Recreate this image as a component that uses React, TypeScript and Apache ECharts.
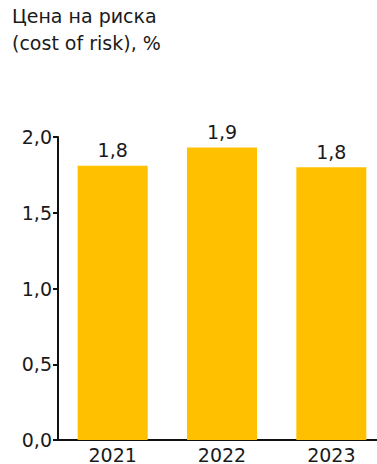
import React, { useEffect, useRef } from "react";
import * as echarts from "echarts";

const categories = ["2021", "2022", "2023"];
const values = [1.81, 1.93, 1.8];
const yTicks = [0, 0.5, 1, 1.5, 2];
const titleLines = ["Цена на риска", "(cost of risk), %"];

const FONT = "Verdana, DejaVu Sans, sans-serif";
const FS = 19;
const fmt = (v: number) => v.toFixed(1).replace(".", ",");

export default function App() {
  const ref = useRef<HTMLDivElement>(null);
  useEffect(() => {
    if (!ref.current) return;
    const chart = echarts.init(ref.current, null, { renderer: "svg" });
    chart.setOption({
      animation: false,
      backgroundColor: "#ffffff",
      title: {
        text: titleLines.join("\n"),
        left: 12,
        top: 0,
        padding: [2, 0, 0, 0],
        textStyle: {
          fontFamily: FONT,
          fontSize: FS,
          fontWeight: "normal",
          color: "#1a1a1a",
          lineHeight: 27,
        },
      },
      grid: { left: 58, right: 0, top: 137, bottom: 21, containLabel: false },
      xAxis: {
        type: "category",
        data: categories,
        axisLine: { show: true, lineStyle: { color: "#111", width: 2 } },
        axisTick: { show: false },
        axisLabel: { fontFamily: FONT, fontSize: FS, color: "#1a1a1a", margin: 5 },
      },
      yAxis: {
        type: "value",
        min: yTicks[0],
        max: yTicks[yTicks.length - 1],
        interval: 0.5,
        splitLine: { show: false },
        axisLine: { show: true, lineStyle: { color: "#111", width: 2 } },
        axisTick: { show: true, length: 5, lineStyle: { color: "#111", width: 2 } },
        axisLabel: {
          fontFamily: FONT,
          fontSize: FS,
          color: "#1a1a1a",
          margin: 6,
          formatter: (v: number) => fmt(v),
        },
      },
      series: [
        {
          type: "bar",
          data: values,
          barWidth: 70,
          itemStyle: { color: "#FFC000" },
          label: {
            show: true,
            position: "top",
            distance: 6,
            fontFamily: FONT,
            fontSize: FS,
            color: "#1a1a1a",
            formatter: (p: any) => fmt(p.value),
          },
        },
      ],
    });
    return () => chart.dispose();
  }, []);
  return (
    <div
      style={{
        position: "fixed",
        left: 0,
        top: 0,
        width: 377,
        height: 464,
        overflow: "hidden",
      }}
    >
      <div ref={ref} style={{ width: 386, height: 464 }} />
    </div>
  );
}
